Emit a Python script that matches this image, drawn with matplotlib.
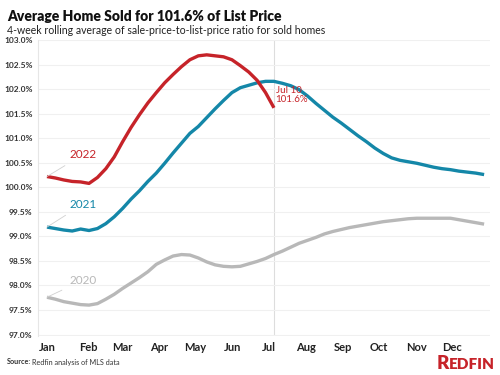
import numpy as np
import matplotlib
matplotlib.use('Agg')
import matplotlib.pyplot as plt

# weekly points, week 0 = first week of January
WEEKS = list(range(53))

Y2022 = [100.22, 100.19, 100.15, 100.12, 100.11, 100.08, 100.20, 100.38, 100.62, 100.93,
         101.22, 101.48, 101.72, 101.93, 102.13, 102.30, 102.46, 102.60, 102.68, 102.70,
         102.68, 102.66, 102.60, 102.48, 102.35, 102.18, 101.93, 101.62]

Y2021 = [99.19, 99.16, 99.13, 99.11, 99.15, 99.12, 99.16, 99.26, 99.40, 99.57,
         99.76, 99.93, 100.12, 100.29, 100.49, 100.70, 100.90, 101.10, 101.24, 101.42,
         101.60, 101.77, 101.93, 102.03, 102.08, 102.13, 102.16, 102.16, 102.12, 102.07,
         101.99, 101.86, 101.71, 101.57, 101.43, 101.31, 101.18, 101.05, 100.93, 100.80,
         100.69, 100.60, 100.55, 100.52, 100.49, 100.45, 100.41, 100.38, 100.36, 100.33,
         100.31, 100.29, 100.26]

Y2020 = [97.76, 97.72, 97.67, 97.64, 97.61, 97.60, 97.63, 97.72, 97.82, 97.94,
         98.05, 98.16, 98.28, 98.43, 98.52, 98.60, 98.63, 98.62, 98.56, 98.48,
         98.42, 98.39, 98.38, 98.39, 98.44, 98.49, 98.55, 98.63, 98.70, 98.78,
         98.86, 98.92, 98.98, 99.05, 99.10, 99.14, 99.18, 99.21, 99.24, 99.27,
         99.30, 99.32, 99.34, 99.36, 99.37, 99.37, 99.37, 99.37, 99.37, 99.34,
         99.31, 99.28, 99.25]

MONTHS = ['Jan', 'Feb', 'Mar', 'Apr', 'May', 'Jun', 'Jul', 'Aug', 'Sep', 'Oct', 'Nov', 'Dec']
MONTH_START_DAY = [0, 31, 59, 90, 120, 151, 181, 212, 243, 273, 304, 334]
Y_TICKS = [97.0, 97.5, 98.0, 98.5, 99.0, 99.5, 100.0, 100.5, 101.0, 101.5, 102.0, 102.5, 103.0]

RED = '#c62329'
BLUE = '#1487a8'
GRAY = '#b8b8b8'

plt.rcParams['font.family'] = ['Lato', 'DejaVu Sans']

fig = plt.figure(figsize=(5, 3.75), dpi=100)
ax = fig.add_axes([0.076, 0.104, 0.904, 0.789])

ax.plot(WEEKS[:len(Y2020)], Y2020, color=GRAY, lw=2.4, solid_capstyle='butt')
ax.plot(WEEKS[:len(Y2021)], Y2021, color=BLUE, lw=2.4, solid_capstyle='butt')
ax.plot(WEEKS[:len(Y2022)], Y2022, color=RED, lw=2.4, solid_capstyle='butt')

last = len(Y2022) - 1
ax.axvline(last, color='#dddddd', lw=0.8, zorder=0)
ax.text(last + 0.2, Y2022[-1] + 0.08, 'Jul 10\n101.6%', color=RED, fontsize=7,
        va='bottom', ha='left', linespacing=1.0)

# series labels with leader lines
for yr, ys, col, dy in [('2022', Y2022, RED, 0.45), ('2021', Y2021, BLUE, 0.47), ('2020', Y2020, GRAY, 0.35)]:
    ax.annotate(yr, xy=(0, ys[0]), xytext=(2.7, ys[0] + dy), color=col, fontsize=8.5,
                va='center', ha='left',
                arrowprops=dict(arrowstyle='-', color='#d0d0d0', lw=0.6, shrinkA=4, shrinkB=0))

ax.set_xlim(-1.07, 52.7)
ax.set_ylim(96.97, 103.0)
ax.set_yticks(Y_TICKS)
ax.set_yticklabels([f'{v:.1f}%' for v in Y_TICKS], fontsize=6, fontweight='bold', color='#333333')
ax.set_xticks([d / 7 + (0 if i == 0 else 0.5) for i, d in enumerate(MONTH_START_DAY)])
ax.set_xticklabels(MONTHS, fontsize=8, fontweight='bold', color='#222222')
ax.tick_params(length=0, pad=4)
ax.grid(axis='y', color='#f0f0f0', lw=0.8)
ax.set_axisbelow(True)
for s in ['top', 'right', 'bottom']:
    ax.spines[s].set_visible(False)
ax.spines['left'].set_color('#e6e6e6')
ax.spines['left'].set_linewidth(0.8)

fig.text(0.014, 0.945, 'Average Home Sold for 101.6% of List Price', fontsize=10,
         fontweight='heavy', color='#111111', va='baseline')
fig.text(0.014, 0.91, '4-week rolling average of sale-price-to-list-price ratio for sold homes',
         fontsize=7.6, color='#222222', va='baseline')
fig.text(0.014, 0.028, 'Source:', fontsize=5.2, fontweight='bold', color='#333333')
fig.text(0.064, 0.028, 'Redfin analysis of MLS data', fontsize=5.2, color='#333333')
fig.text(0.898, 0.016, 'R', fontsize=13.5, fontweight='heavy', color=RED, ha='right')
fig.text(0.898, 0.016, 'EDFIN', fontsize=11, fontweight='heavy', color=RED, ha='left')

fig.savefig('out.png', dpi=100)
